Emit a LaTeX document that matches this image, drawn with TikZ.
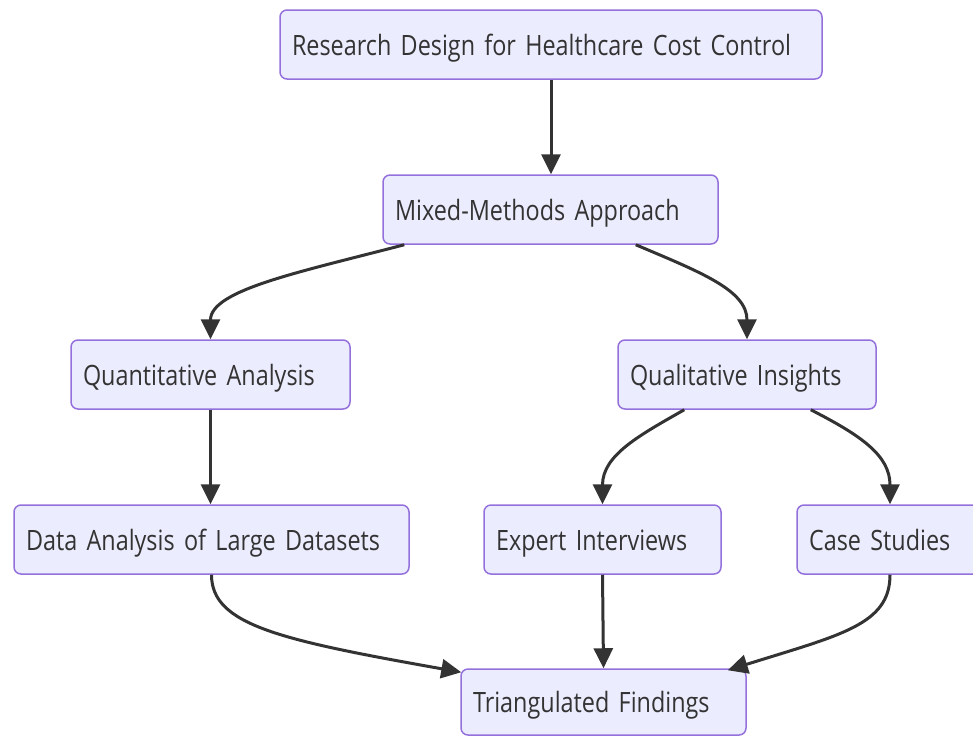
\documentclass[tikz,border=0pt]{standalone}
\usepackage{fontspec}
\setmainfont{Open Sans}[FakeStretch=0.835]
\usetikzlibrary{arrows.meta}
\definecolor{nfill}{HTML}{ECECFF}
\definecolor{nborder}{HTML}{9370DB}
\definecolor{ink}{HTML}{333333}
\newcommand\nodefnt{\fontsize{28}{32}\selectfont}
\begin{document}
\begin{tikzpicture}[x=1pt,y=-1pt,
  nbox/.style={draw=nborder, fill=nfill, line width=1.5pt, rounded corners=7pt,
    minimum height=69pt, inner xsep=12pt, inner ysep=0pt, text width=#1,
    text height=25pt, text depth=4pt,
    align=left, font=\nodefnt, text=ink, anchor=center},
  link/.style={draw=ink, line width=3pt, -{Triangle[length=20pt,width=19pt]}}]
\useasboundingbox (0,0) rectangle (973,736);

\node[nbox=518pt] (n1) at (551,44.5) {Research Design for Healthcare Cost Control};
\node[nbox=311pt] (n2) at (550.5,209.5) {Mixed-Methods Approach};
\node[nbox=255pt] (n3) at (210.5,374.5) {Quantitative Analysis};
\node[nbox=234pt] (n4) at (747,374.5) {Qualitative Insights};
\node[nbox=371pt] (n5) at (211.5,539.5) {Data Analysis of Large Datasets};
\node[nbox=213pt] (n6) at (602.5,539.5) {Expert Interviews};
\node[nbox=162pt] (n7) at (890,539.5) {Case Studies};
\node[nbox=261pt, minimum height=66pt] (n8) at (603.5,702) {Triangulated Findings};

\draw[link] (n1.south) -- (n1.south |- n2.north);
\draw[link] ([xshift=22pt]n2.south west) .. controls (300,272) and (210.5,290) .. (n3.north);
\draw[link] ([xshift=-83pt]n2.south east) .. controls (700,272) and (747,290) .. (n4.north);
\draw[link] (n3.south) -- (n3.south |- n5.north);
\draw[link] ([xshift=67pt]n4.south west) .. controls (640,435) and (602.5,455) .. (n6.north);
\draw[link] ([xshift=-66pt]n4.south east) .. controls (860,435) and (890,455) .. (n7.north);
\draw[link] (n5.south) .. controls (211.5,625) and (280,640) .. ([xshift=1pt,yshift=-4pt]n8.north west);
\draw[link] (n6.south) -- (n8.north);
\draw[link] (n7.south) .. controls (890,625) and (840,635) .. ([xshift=-19pt,yshift=-2pt]n8.north east);
\end{tikzpicture}
\end{document}
